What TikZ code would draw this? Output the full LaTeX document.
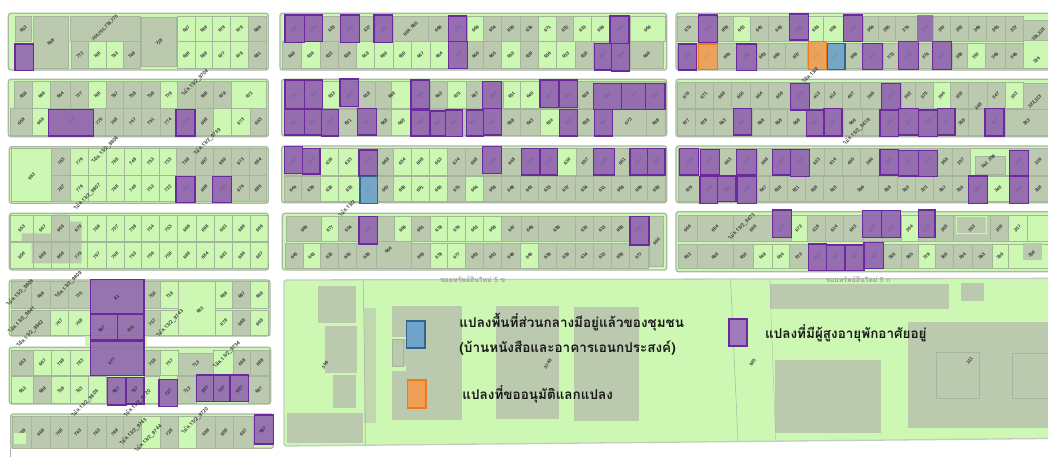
\documentclass[tikz,border=0pt]{standalone}
\usepackage{fontspec}
\usetikzlibrary{calc}
\setmainfont{Liberation Sans}
\newfontfamily\thaifont[Script=Thai]{Loma}
\definecolor{g}{HTML}{BBC9AE}
\definecolor{l}{HTML}{CDF8B4}
\definecolor{edge}{HTML}{A9B8A2}
\definecolor{cellline}{HTML}{A4B59C}
\definecolor{purf}{HTML}{8F62B0}
\definecolor{purd}{HTML}{6A2A9E}
\definecolor{bluf}{HTML}{6FA3C8}
\definecolor{blud}{HTML}{2F6590}
\definecolor{oraf}{HTML}{EE9F55}
\definecolor{orad}{HTML}{EE7A1A}
\tikzset{
 zoomed/.style n args={4}{shift={(#1,#2)},x=#3 pt,y=-#4 pt},
 blockbox/.style={fill=l,draw=edge,line width=1.3pt,rounded corners=2.5pt},
 cell/.style={draw=cellline,line width=.35pt},
 lab/.style={rotate=45,font=\bfseries\fontsize{4.6}{5}\selectfont,text=black!80,inner sep=0pt},
 road/.style={rotate=45,font=\thaifont\bfseries\fontsize{5.2}{6}\selectfont,text=black!78,inner sep=0pt},
 purbox/.style={fill=purf,fill opacity=.88,draw=purd,line width=1.5pt},
 blubox/.style={fill=bluf,fill opacity=.9,draw=blud,line width=1.5pt},
 orabox/.style={fill=oraf,fill opacity=.9,draw=orad,line width=1.5pt},
 legendtext/.style={font=\thaifont\bfseries\fontsize{13.5}{15}\selectfont,text=black!90,anchor=west,inner sep=0pt},
 streetname/.style={font=\thaifont\bfseries\fontsize{7}{8}\selectfont,text=black!38,inner sep=0pt},
}
\newcommand\cellrow[4]{%
 \foreach \xb/\cc/\lbl [remember=\xb as \xa (initially #3)] in {#4}{%
  \path[cell,fill=\cc] (\xa,#1) rectangle (\xb,#2);
  \node[lab] at ($(\xa,#1)!.5!(\xb,#2)$) {\lbl};
 }}
\newcommand\boxes[2]{\foreach \pa/\pb/\pc/\pd in {#2}{\path[#1] (\pa,\pb) rectangle (\pc,\pd);}}
\newcommand\solo[6]{\path[cell,fill=#5] (#1,#2) rectangle (#3,#4); \node[lab] at ($(#1,#2)!.5!(#3,#4)$) {#6};}
\begin{document}
\begin{tikzpicture}[x=1pt,y=-1pt]
\path[use as bounding box,fill=white] (0,0) rectangle (1048,457);
% ---------- left column, upper
\begin{scope}[zoomed={0}{0}{.33333}{.33333}]
\path[blockbox] (25,40) rectangle (805,210);
\path[blockbox] (25,238) rectangle (805,410);
\path[blockbox] (28,440) rectangle (805,610);
\solo{45}{50}{95}{125}{g}{653}
\solo{100}{48}{205}{205}{g}{668}
\solo{210}{48}{420}{125}{g}{}
\node[lab] at (315,85) {766,751,778,775};
\solo{215}{125}{265}{205}{g}{772}
\solo{265}{125}{318}{205}{l}{768}
\solo{318}{125}{370}{205}{l}{763}
\solo{370}{125}{420}{205}{g}{748}
\solo{425}{52}{530}{200}{g}{728}
\cellrow{50}{125}{533}{585/l/687,638/l/688,692/l/678,745/l/678,800/g/688}
\cellrow{125}{205}{533}{585/l/689,638/l/688,692/l/677,745/l/678,800/g/681}
\cellrow{245}{325}{42}{98/g/659,152/l/698,210/g/664,265/g/777,318/l/768,370/g/767,425/g/758,480/g/759,532/l/778,585/g/,640/g/698,695/g/678,800/l/673}
\cellrow{325}{405}{30}{98/g/659,145/l/668,280/g/773,315/g/776,370/g/768,425/g/747,480/g/751,528/g/774,585/g/765,640/g/698,695/l/,750/l/673,800/g/683}
\path[cell,fill=l] (35,445) rectangle (155,605); \node[lab] at (95,530) {693};
\cellrow{445}{525}{155}{212/g/763,265/l/779,318/l/,372/l/768,425/l/748,478/l/753,530/l/733,585/g/708,640/g/697,695/g/688,748/g/673,800/g/684}
\cellrow{525}{605}{155}{212/g/767,265/l/776,318/l/,372/l/768,425/l/749,478/l/753,530/l/732,585/g/707,640/g/698,695/g/689,748/g/679,800/g/685}
\boxes{purbox}{45/132/100/212,528/328/585/408,145/328/280/408,528/530/585/608,638/530/695/608}
\node[road] at (585,248) {ไม้ล.13/2\_9704};
\node[road] at (622,425) {ไม้ล.13/2\_9739};
\node[road] at (315,450) {ไม้ล.13/2\_9806};
\node[road] at (262,590) {ไม้ล.13/2\_9807};
\end{scope}
% ---------- block d
\begin{scope}[zoomed={0}{205}{.33333}{.33333}]
\path[blockbox] (28,25) rectangle (805,195);
\path[fill=g] (65,85)--(155,85)--(155,28)--(208,28)--(208,50)--(245,50)--(245,175)--(95,175)--(95,112)--(65,112)--cycle;
\cellrow{30}{110}{30}{100/none/653,155/none/667,208/none/668,262/none/679,318/none/768,372/none/757,425/none/758,478/none/754,532/none/753,588/none/698,642/none/698,698/none/693,752/none/688,805/none/698}
\cellrow{112}{190}{30}{100/none/659,155/none/668,208/none/668,262/none/779,318/none/767,372/none/768,425/none/763,478/none/759,532/none/758,588/none/688,642/none/684,698/none/683,752/none/688,805/none/687}
\end{scope}
% ---------- left column, lower
\begin{scope}[zoomed={0}{260}{.33333}{.33333}]
\path[blockbox] (28,60) rectangle (810,228);
\path[blockbox] (28,262) rectangle (812,432);
\path[blockbox] (32,462) rectangle (820,565);
\draw[edge,line width=1pt] (32,565)--(32,590);
\path[fill=l] (255,228) rectangle (440,262);
\solo{35}{65}{95}{145}{g}{}
\solo{95}{65}{150}{145}{g}{669}
\solo{150}{65}{205}{145}{g}{}
\solo{205}{65}{270}{145}{g}{775}
\solo{432}{65}{482}{145}{g}{758}
\solo{482}{65}{535}{145}{l}{718}
\solo{535}{65}{645}{225}{l}{}
\solo{645}{65}{698}{145}{l}{688}
\solo{698}{65}{752}{145}{g}{687}
\solo{752}{65}{805}{145}{l}{698}
\solo{35}{150}{150}{225}{g}{}
\solo{150}{150}{205}{225}{l}{767}
\solo{205}{150}{270}{225}{l}{768}
\solo{432}{150}{482}{225}{g}{757}
\solo{482}{150}{535}{225}{l}{}
\solo{645}{150}{698}{225}{l}{678}
\solo{698}{150}{752}{225}{g}{698}
\solo{752}{150}{805}{225}{l}{698}
\cellrow{270}{345}{35}{100/g/953,155/l/667,210/l/798,270/l/783}
\solo{432}{270}{482}{345}{g}{758}
\solo{482}{270}{535}{345}{l}{757}
\solo{535}{280}{640}{345}{g}{713}
\solo{640}{270}{700}{345}{l}{}
\solo{700}{270}{752}{345}{g}{668}
\solo{752}{270}{808}{345}{g}{688}
\cellrow{350}{430}{35}{100/l/953,155/g/688,210/l/768,265/l/763,320/l/}
\solo{432}{350}{478}{430}{l}{}
\solo{532}{350}{590}{430}{g}{713}
\solo{745}{350}{808}{430}{g}{687}
\cellrow{470}{565}{38}{95/g/659,150/g/668,205/g/768,262/g/763,318/g/763,370/g/768,425/g/,480/l/,535/g/728,590/l/,645/g/688,700/g/688,760/g/687}
\path[fill=l] (42,518) rectangle (78,552);
\boxes{purbox}{272/58/432/160,272/163/352/240,352/163/432/240,272/243/432/347,322/352/378/435,378/352/432/432,477/358/532/440,590/345/640/425,640/345/690/425,690/345/745/425,763/465/820/552}
\node[lab] at (350,112) {81};
\node[lab] at (305,207) {667}; \node[lab] at (392,207) {679};
\node[lab] at (335,305) {677}; \node[lab] at (348,390) {667}; \node[lab] at (404,390) {707};
\node[lab] at (505,398) {727}; \node[lab] at (615,388) {697}; \node[lab] at (665,388) {707}; \node[lab] at (718,388) {687};
\node[lab] at (788,510) {687};
\node[road] at (60,98) {ไม้ล.13/2\_9808};
\node[road] at (205,75) {ไม้ล.13/2\_9809};
\node[road] at (65,180) {ไม้ล.13/2\_9841};
\node[road] at (90,222) {ไม้ล.13/2\_9842};
\node[road] at (510,190) {ไม้ล.13/2\_9743};
\node[road] at (680,285) {ไม้ล.13/2\_9734};
\node[road] at (255,430) {ไม้ล.13/2\_9808};
\node[road] at (412,430) {ไม้ล.13/2\_9720};
\node[road] at (585,482) {ไม้ล.13/2\_9720};
\node[road] at (400,515) {ไม้ล.13/2\_9743};
\node[road] at (445,535) {ไม้ล.13/2\_9744};
\node[lab] at (600,150) {683};
\end{scope}
% ---------- middle column
\begin{scope}[zoomed={275}{0}{.33333}{.33333}]
\path[blockbox] (15,40) rectangle (1175,210);
\path[blockbox] (20,238) rectangle (1175,408);
\path[blockbox] (20,438) rectangle (1175,608);
\path[blockbox] (22,640) rectangle (1175,810);
\cellrow{48}{125}{30}{88/g/637,143/g/634,197/g/633,253/g/638,300/g/617,355/g/653,460/g/666\_665,520/g/668,578/g/679,625/l/669,680/g/654,735/g/653,790/g/636,845/l/671,895/g/632,950/l/633,1005/l/666,1065/g/665,1170/l/669}
\cellrow{125}{205}{22}{78/g/648,135/l/639,190/g/633,245/g/639,298/l/618,355/l/680,408/l/680,465/l/667,520/l/664,578/g/675,625/g/669,680/g/665,735/l/653,790/g/639,845/l/636,900/l/633,955/g/638,1010/g/667,1065/g/664,1165/g/669}
\cellrow{245}{325}{30}{88/g/647,143/g/634,197/l/633,250/g/629,300/g/618,350/g/,405/l/,465/g/668,518/g/663,575/l/675,625/g/667,685/g/659,735/l/651,795/l/640,853/g/671,908/g/634,955/g/628,1040/g/662,1112/g/671,1170/g/667}
\node[lab] at (350,285) {668};
\cellrow{328}{405}{28}{88/g/647,140/g/677,190/g/638,248/g/631,305/g/677,350/g/668,408/l/668,465/g/669,512/g/667,562/g/675,625/g/667,680/g/657,735/g/658,795/g/643,853/l/634,908/g/635,958/g/638,1012/g/667,1115/g/}
\node[lab] at (1060,365) {673};
\solo{1115}{328}{1170}{405}{g}{668}
\cellrow{445}{525}{28}{82/g/645,135/g/635,190/l/639,250/l/633,308/g/677,355/g/668,408/l/654,462/l/668,518/l/663,570/g/674,625/g/668,680/g/659,740/g/648,795/g/671,848/g/672,905/l/638,955/g/657,1018/g/628,1065/g/661,1118/g/677,1170/g/667}
\cellrow{528}{605}{28}{80/g/644,135/g/639,190/l/628,255/l/633,308/g/677,355/g/667,408/l/668,462/l/661,518/l/668,572/g/675,625/l/664,680/g/668,735/g/648,790/g/643,845/g/633,900/g/637,955/g/634,1008/g/611,1065/g/668,1118/g/689,1170/g/688}
\cellrow{648}{725}{35}{140/g/668,190/l/677,250/g/634,308/g/637,358/g/,408/l/668,465/g/661,518/l/678,572/l/679,625/l/663,680/l/668,740/g/647,790/g/648,900/g/638,955/g/615,1008/g/613,1062/g/688,1122/g/677}
\cellrow{730}{805}{30}{85/g/643,135/l/643,190/g/628,245/g/620,305/g/638}
\solo{305}{725}{410}{805}{g}{}
\node[lab] at (340,750) {694};
\cellrow{730}{805}{410}{465/g/663,518/l/678,572/l/677,625/g/663,680/g/663,735/g/648,790/l/640,845/g/638,900/g/629,955/g/614,1008/g/613,1062/g/688,1120/g/677}
\path[cell,fill=g] (1122,650) rectangle (1165,800);
\node[lab] at (1145,725) {660};
\boxes{purbox}{30/45/88/128,88/45/143/125,197/45/253/128,297/45/352/128,520/48/575/125,520/125/578/205,1005/48/1062/130,958/130/1010/210,1010/130/1063/213,
 30/240/88/325,88/240/143/325,195/237/250/320,408/240/463/325,623/245/680/325,795/240/850/322,853/240/908/322,955/250/1040/328,1040/250/1112/328,1112/250/1170/328,
 28/328/88/405,88/328/140/405,140/328/190/408,248/325/305/405,408/330/463/408,465/333/512/408,512/330/562/410,575/330/625/408,625/325/680/405,853/328/908/408,958/328/1012/408,
 28/440/82/520,82/445/135/522,252/450/308/528,622/440/680/520,740/445/795/525,795/445/848/525,955/445/1018/525,1065/445/1118/525,1118/445/1170/525,
 252/650/308/732,1065/650/1122/735}
\boxes{blubox}{255/530/308/610}
\node[road] at (215,625) {ไม้ล.13/2};
\end{scope}
% ---------- right column
\begin{scope}[zoomed={670}{0}{.33333}{.33333}]
\path[blockbox] (18,40) rectangle (1160,210);
\path[blockbox] (18,238) rectangle (1160,410);
\path[blockbox] (18,438) rectangle (1160,608);
\path[blockbox] (18,635) rectangle (1160,815);
\cellrow{48}{125}{22}{85/g/674,142/g/673,188/g/668,240/l/603,295/g/642,358/g/643,415/g/638,458/l/628,520/l/608,578/g/667,625/g/369,675/g/365,740/g/376,790/g/377,840/g/367,895/g/363,948/g/346,1005/g/345,1058/g/327}
\path[cell,fill=g] (1058,60) rectangle (1134,120); \node[lab] at (1105,105) {326,328};
\path[cell,fill=none] (1058,120) rectangle (1134,205); \node[lab] at (1100,180) {324};
\cellrow{130}{205}{22}{85/g/675,142/g/673,200/g/666,260/g/661,295/g/663,345/g/660,412/g/657,470/g/628,525/g/627,578/g/669,640/g/665,685/g/373,745/g/375,788/g/376,845/g/367,890/g/368,945/l/367,1005/g/346,1058/g/346}
\cellrow{248}{325}{22}{75/g/676,128/g/671,182/g/668,240/g/655,295/g/664,362/g/659,418/g/679,462/g/413,515/g/612,570/g/467,635/g/366,692/g/374,735/g/362,790/g/375,840/l/364,895/g/359,950/g/,1005/g/347,1060/l/353}
\path[cell,fill=g] (1060,250) rectangle (1134,345); \node[lab] at (1095,305) {322,323};
\cellrow{328}{405}{22}{75/g/677,128/g/678,188/g/663,245/g/659,300/g/668,352/g/658,408/g/659,462/g/623,520/g/627,575/g/666,630/g/,690/g/376,745/g/374,802/g/376,855/g/377,895/g/358,945/g/,1005/g/357,1134/g/353}
\node[lab] at (925,320) {348};
\cellrow{445}{525}{25}{92/g/678,148/g/677,200/g/663,260/g/673,308/g/668,362/g/627,418/g/628,462/g/623,515/g/614,570/g/465,628/g/366,685/g/369,745/g/367,802/g/373,845/g/368,900/g/357,1018/l/,1075/g/358,1134/g/339}
\path[cell,fill=g] (915,468) rectangle (1005,522);\node[lab] at (955,485) {342\_358};
\cellrow{530}{605}{25}{90/g/679,142/g/678,200/g/668,260/g/675,298/g/647,350/g/638,405/g/621,460/g/638,520/g/615,625/g/399,680/g/368,735/g/363,790/g/373,845/g/367,895/g/356,950/g/357,1018/l/348,1075/g/359,1134/g/358}
\cellrow{645}{725}{25}{80/g/669,190/g/664,308/g/668,362/g/679,410/l/673,465/g/619,520/g/614,578/g/603,635/g/609,692/g/667,745/l/364,795/g/373,850/g/368,960/g/363,1015/g/359,1070/l/357,1134/l/}
\cellrow{732}{805}{25}{80/g/663,190/g/668,250/g/658,305/l/648,358/l/634,415/g/673,470/g/628,525/g/627,585/g/667,640/g/667,692/g/366,745/g/365,795/l/378,850/g/369,905/g/364,965/g/363,1015/l/359,1134/l/}
\path[fill=g] (1060,728) rectangle (1115,780); \node[lab] at (1085,762) {356};
\path[draw=l,line width=1pt] (860,650) rectangle (950,700);
\boxes{purbox}{85/45/142/128,358/42/415/120,520/45/578/125,25/132/80/210,200/132/260/212,578/130/638/208,685/125/745/208,788/125/845/208,
 362/250/418/330,635/250/692/328,190/325/245/405,410/330/462/408,462/325/516/408,630/330/685/410,685/325/745/405,745/330/802/410,802/325/855/405,945/325/1002/408,
 28/445/85/525,92/448/148/525,200/448/260/525,308/448/362/525,362/448/418/530,630/448/685/525,685/452/745/528,745/452/802/530,1018/452/1075/528,90/530/142/610,142/528/198/605,202/530/260/610,895/528/952/610,1018/530/1075/610,
 308/630/365/712,578/632/635/712,635/632/692/712,745/630/795/712,415/732/470/812,470/735/525/812,525/735/582/812,582/728/640/805}
\path[fill=purf,fill opacity=.85] (740,45) rectangle (790,125);
\boxes{orabox}{85/132/142/208,415/125/470/208}
\boxes{blubox}{472/130/525/208}
\node[road] at (420,225) {ไม้ล.13/2};
\node[road] at (560,395) {ไม้ล.13/2\_9419};
\node[road] at (215,680) {ไม้ล.13/2\_9473};
\end{scope}
% ---------- lower block with legend
\begin{scope}[zoomed={280}{260}{.48980}{.33333}]
\path[blockbox,draw=edge!70] (8,60)--(1600,55)--(1600,535)--(8,558)--cycle;
\boxes{fill=g}{78/78/155/190,92/198/158/340,108/345/155/445,15/458/170/550,228/138/372/480,440/138/570/478,600/140/732/483,1000/72/1365/148,1390/70/1437/122,1010/300/1228/520,1282/185/1600/505}
\path[fill=g!70!l] (172,145) rectangle (195,488);
\path[fill=l] (228,230) rectangle (258,238);
\path[fill=l] (228,318) rectangle (258,332);
\path[draw=cellline,line width=.3pt] (228,238) rectangle (252,318);
\draw[cellline,line width=.5pt] (170,62)--(175,555);
\draw[cellline,line width=.5pt] (920,60)--(935,545);
\draw[cellline,line width=.3pt] (1000,60)--(1012,540);
\path[draw=g!90!black,line width=.25pt] (1340,275) rectangle (1428,415);
\path[draw=g!90!black,line width=.25pt] (1495,280) rectangle (1600,415);
\node[lab,rotate=10] at (92,315) {396};
\node[lab,rotate=10] at (547,312) {3748};
\node[lab,rotate=10] at (965,308) {925};
\node[lab,rotate=10] at (1408,302) {311};
\path[fill=bluf,draw=blud,line width=1.7pt] (258,183) rectangle (296,265);
\path[fill=oraf,draw=orad,line width=1.7pt] (260,360) rectangle (298,445);
\path[fill=purf!85,draw=purd,line width=1.7pt] (916,177) rectangle (954,258);
\node[legendtext] at (366,187) {แปลงพื้นที่ส่วนกลางมีอยู่แล้วของชุมชน};
\node[legendtext] at (366,265) {(บ้านหนังสือและอาคารเอนกประสงค์)};
\node[legendtext] at (372,402) {แปลงที่ขออนุมัติแลกแปลง};
\node[legendtext] at (990,220) {แปลงที่มีผู้สูงอายุพักอาศัยอยู่};
\node[streetname] at (393,58) {ซอยทรัพย์สินใหม่ 5 ข};
\node[streetname] at (1180,58) {ซอยทรัพย์สินใหม่ 5 ก};
\end{scope}
\end{tikzpicture}
\end{document}
